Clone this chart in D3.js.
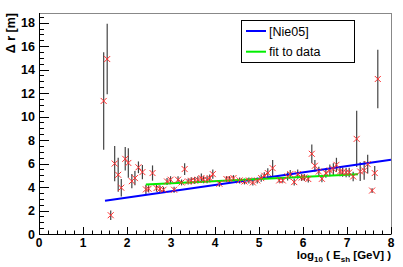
<!DOCTYPE html>
<html>
<head>
<meta charset="utf-8">
<script src="https://cdn.jsdelivr.net/npm/d3@7"></script>
<style>
  body { margin: 0; background: #fff; }
  svg { display: block; font-family: "Liberation Sans", Arial, sans-serif; }
</style>
</head>
<body>
<svg id="chart"></svg>
<script>
// measured points: log10(E_sh), delta r, error
var logE = [1.47, 1.55, 1.63, 1.72, 1.80, 1.87, 1.96, 2.03, 2.11, 2.18, 2.26, 2.35,
  2.43, 2.49, 2.58, 2.67, 2.75, 2.83, 2.91, 2.99, 3.07, 3.16, 3.24, 3.31, 3.39, 3.46,
  3.54, 3.61, 3.69, 3.74, 3.82, 3.88, 3.95, 4.10, 4.26, 4.33, 4.42, 4.56, 4.67, 4.77,
  4.86, 4.96, 5.05, 5.12, 5.20, 5.31, 5.46, 5.54, 5.65, 5.71, 5.80, 5.88, 5.97, 6.03,
  6.12, 6.20, 6.27, 6.36, 6.43, 6.52, 6.61, 6.69, 6.76, 6.84, 6.90, 6.98, 7.05, 7.14,
  7.22, 7.30, 7.39, 7.47, 7.57, 7.63, 7.70];
var deltaR = [11.33, 14.9, 1.6, 6.0, 5.04, 3.94, 6.40, 6.05, 4.50, 4.76, 5.68, 5.27,
  3.80, 3.85, 5.19, 3.91, 3.83, 3.77, 4.47, 4.62, 3.77, 4.62, 4.39, 5.53, 4.47, 4.53,
  4.56, 4.62, 4.76, 4.62, 4.62, 4.76, 5.10, 4.28, 4.68, 4.68, 4.76, 4.56, 4.47, 4.56,
  4.39, 4.56, 4.76, 4.96, 5.19, 5.61, 4.56, 4.56, 4.90, 5.10, 4.42, 5.10, 4.81, 4.81,
  4.68, 6.83, 5.81, 5.32, 4.70, 5.19, 5.41, 5.53, 5.89, 5.32, 5.27, 5.24, 5.24, 4.90,
  8.10, 5.32, 5.41, 5.95, 3.70, 5.19, 13.2];
var errR = [4.15, 3.0, 0.4, 1.5, 1.45, 0.75, 1.0, 1.25, 0.6, 0.6, 0.5, 0.6,
  0.4, 0.3, 0.65, 0.3, 0.3, 0.25, 0.3, 0.3, 0.25, 0.3, 0.25, 0.5, 0.25, 0.3,
  0.3, 0.3, 0.4, 0.3, 0.3, 0.3, 0.4, 0.25, 0.25, 0.25, 0.25, 0.25, 0.25, 0.25,
  0.25, 0.25, 0.3, 0.3, 0.4, 0.7, 0.2, 0.2, 0.35, 0.35, 0.3, 0.4, 0.3, 0.3,
  0.3, 0.8, 0.5, 0.4, 0.3, 0.4, 0.5, 0.5, 0.6, 0.4, 0.4, 0.4, 0.4, 0.4,
  2.4, 0.8, 0.8, 0.8, 0.2, 0.6, 2.5];

// the two lines: endpoints
var nieX = [1.5, 8.0], nieY = [2.83, 6.32];
var fitX = [2.43, 7.25], fitY = [4.22, 5.08];

var legendNames = ["[Nie05]", "fit to data"];
var legendColors = ["#0000ff", "#00ee00"];

var width = 403, height = 267,
  margin = {top: 13, right: 12, bottom: 33, left: 39};

var svg = d3.select("#chart")
  .attr("width", width)
  .attr("height", height);

var x = d3.scaleLinear().domain([0, 8]).range([margin.left, width - margin.right]);
var y = d3.scaleLinear().domain([0, 18.82]).range([height - margin.bottom, margin.top]);

// frame
svg.append("rect")
  .attr("x", margin.left + 0.5)
  .attr("y", margin.top + 0.5)
  .attr("width", width - margin.left - margin.right)
  .attr("height", height - margin.top - margin.bottom)
  .attr("fill", "none")
  .attr("stroke", "#888");

// x axis (ticks pointing inward)
var xMinor = d3.range(0, 8.01, 0.2);
svg.append("g").selectAll("line")
  .data(xMinor)
  .enter().append("line")
  .attr("x1", function (d) { return Math.round(x(d)) + 0.5; })
  .attr("x2", function (d) { return Math.round(x(d)) + 0.5; })
  .attr("y1", y(0))
  .attr("y2", function (d, i) { return y(0) - (i % 5 === 0 ? 7 : 3.5); })
  .attr("stroke", "#000");

svg.append("g").selectAll("text")
  .data(d3.range(0, 9))
  .enter().append("text")
  .attr("x", function (d) { return x(d); })
  .attr("y", 246.5)
  .attr("text-anchor", "middle")
  .attr("font-size", 12)
  .attr("font-weight", "bold")
  .text(function (d) { return d; });

// y axis
var yMinor = d3.range(0, 18.6, 0.5);
svg.append("g").selectAll("line")
  .data(yMinor)
  .enter().append("line")
  .attr("y1", function (d) { return Math.round(y(d)) + 0.5; })
  .attr("y2", function (d) { return Math.round(y(d)) + 0.5; })
  .attr("x1", x(0))
  .attr("x2", function (d, i) { return x(0) + (i % 4 === 0 ? 10 : 5); })
  .attr("stroke", "#000");

svg.append("g").selectAll("text")
  .data(d3.range(0, 19, 2))
  .enter().append("text")
  .attr("x", 35)
  .attr("y", function (d) { return y(d) + 4.5; })
  .attr("text-anchor", "end")
  .attr("font-size", 12.5)
  .attr("font-weight", "bold")
  .text(function (d) { return d; });

svg.append("line")
  .attr("x1", x(0) + 0.5).attr("x2", x(0) + 0.5)
  .attr("y1", y(0)).attr("y2", margin.top)
  .attr("stroke", "#000");
svg.append("line")
  .attr("x1", x(0)).attr("x2", x(8))
  .attr("y1", Math.round(y(0)) + 0.5).attr("y2", Math.round(y(0)) + 0.5)
  .attr("stroke", "#000");

// axis titles
var xt = svg.append("text")
  .attr("x", x(8))
  .attr("y", 259)
  .attr("text-anchor", "end")
  .attr("font-size", 11.5)
  .attr("font-weight", "bold");
xt.append("tspan").text("log");
xt.append("tspan").attr("font-size", 8).attr("dy", 3).text("10");
xt.append("tspan").attr("dy", -3).text(" ( E");
xt.append("tspan").attr("font-size", 8).attr("dy", 3).text("sh");
xt.append("tspan").attr("dy", -3).text(" [GeV] )");

svg.append("text")
  .attr("transform", "translate(15," + margin.top + ") rotate(-90)")
  .attr("text-anchor", "end")
  .attr("font-size", 12.5)
  .attr("font-weight", "bold")
  .text("\u0394 r [m]");

// data
var pts = logE.map(function (v, i) { return {x: v, y: deltaR[i], e: errR[i]}; });
var plot = svg.append("g");

plot.selectAll(".err")
  .data(pts)
  .enter().append("line")
  .attr("class", "err")
  .attr("x1", function (d) { return x(d.x); })
  .attr("x2", function (d) { return x(d.x); })
  .attr("y1", function (d) { return y(d.y - d.e); })
  .attr("y2", function (d) { return y(d.y + d.e); })
  .attr("stroke", "#444")
  .attr("stroke-width", 1.2);

var line = d3.line()
  .x(function (d) { return x(d[0]); })
  .y(function (d) { return y(d[1]); });

plot.append("path")
  .datum(nieX.map(function (v, i) { return [v, nieY[i]]; }))
  .attr("d", line)
  .attr("fill", "none")
  .attr("stroke", legendColors[0])
  .attr("stroke-width", 2);

plot.append("path")
  .datum(fitX.map(function (v, i) { return [v, fitY[i]]; }))
  .attr("d", line)
  .attr("fill", "none")
  .attr("stroke", legendColors[1])
  .attr("stroke-width", 2);

var s = 3;
plot.selectAll(".mark")
  .data(pts)
  .enter().append("path")
  .attr("class", "mark")
  .attr("d", function (d) {
    var cx = x(d.x), cy = y(d.y);
    return "M" + (cx - s) + "," + (cy - s) + "L" + (cx + s) + "," + (cy + s) +
      "M" + (cx - s) + "," + (cy + s) + "L" + (cx + s) + "," + (cy - s);
  })
  .attr("stroke", "#ff3030")
  .attr("stroke-width", 1)
  .attr("fill", "none");

// legend
var lg = svg.append("g");
lg.append("rect")
  .attr("x", 241.5).attr("y", 20.5)
  .attr("width", 113).attr("height", 42)
  .attr("fill", "#fff")
  .attr("stroke", "#000");

var items = lg.selectAll(".item")
  .data(legendNames)
  .enter().append("g")
  .attr("transform", function (d, i) { return "translate(0," + (31 + i * 20.7) + ")"; });
items.append("line")
  .attr("x1", 246).attr("x2", 266)
  .attr("y1", 0).attr("y2", 0)
  .attr("stroke", function (d, i) { return legendColors[i]; })
  .attr("stroke-width", 2);
items.append("text")
  .attr("x", 269)
  .attr("y", 4.5)
  .attr("font-size", 12.5)
  .text(function (d) { return d; });
</script>
</body>
</html>
